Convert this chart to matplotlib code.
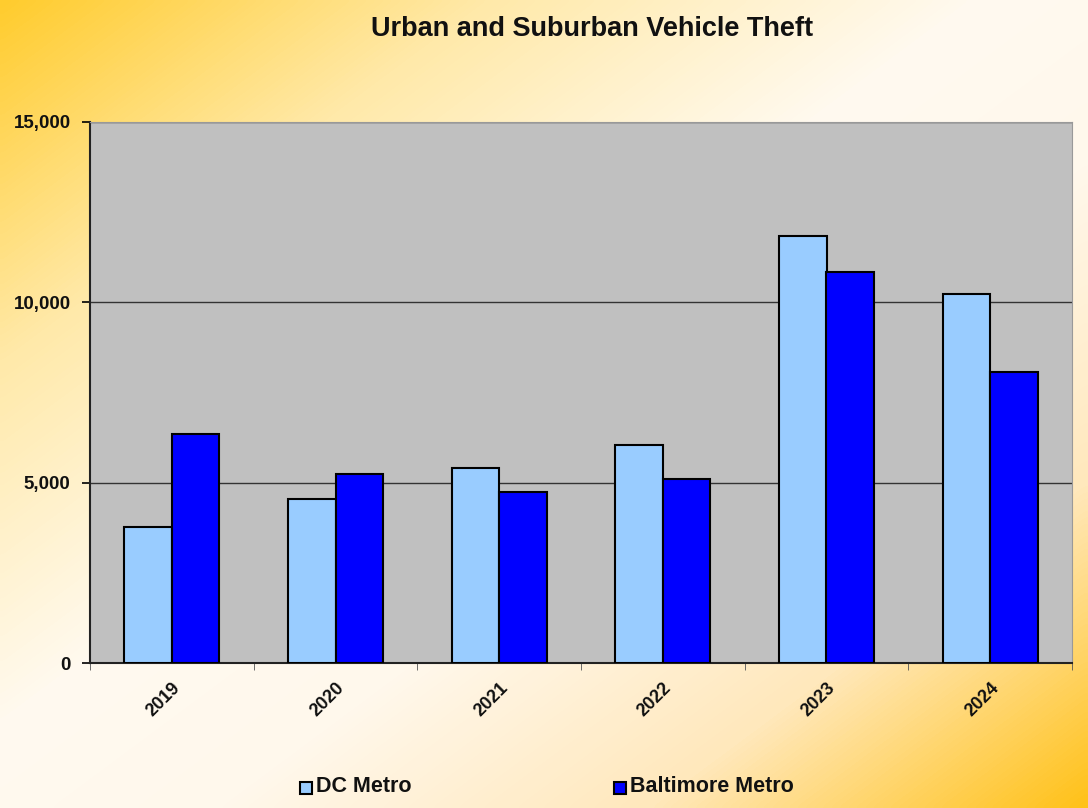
import matplotlib.pyplot as plt
import numpy as np
from matplotlib.colors import LinearSegmentedColormap

anos = ['2019', '2020', '2021', '2022', '2023', '2024']
dc_metro = [3770, 4550, 5410, 6040, 11840, 10230]
baltimore_metro = [6350, 5240, 4740, 5100, 10840, 8070]
series_nomes = ['DC Metro', 'Baltimore Metro']
cores = ['#99CCFF', '#0000FF']

plt.rcParams['font.family'] = ['Liberation Sans', 'DejaVu Sans']

fig = plt.figure(figsize=(10.88, 8.08), dpi=100)

# fundo em degradê diagonal (amarelo -> branco -> laranja)
bg = fig.add_axes([0, 0, 1, 1], zorder=0)
yy, xx = np.mgrid[0:1:200j, 0:1:200j]
t = (xx + yy) / 2
cmap_bg = LinearSegmentedColormap.from_list(
    'bg', [(0.0, '#FFCC2E'), (0.22, '#FFE9A8'), (0.45, '#FFFAF0'),
           (0.6, '#FFF8EC'), (0.8, '#FFE8BC'), (1.0, '#FFC21A')])
bg.imshow(t, cmap=cmap_bg, aspect='auto', extent=[0, 1, 1, 0], interpolation='bicubic')
bg.set_axis_off()

ax = fig.add_axes([90 / 1088, 1 - 663 / 808, (1072 - 90) / 1088, (663 - 122) / 808], zorder=1)
ax.set_facecolor('#C0C0C0')

x = np.arange(len(anos))
w = 0.29
ax.bar(x - w / 2, dc_metro, w, color=cores[0], edgecolor='black', linewidth=1.5, zorder=3, label=series_nomes[0])
ax.bar(x + w / 2, baltimore_metro, w, color=cores[1], edgecolor='black', linewidth=1.5, zorder=3, label=series_nomes[1])

ax.set_xlim(-0.5, len(anos) - 0.5)
ax.set_ylim(0, 15000)
ax.set_yticks([0, 5000, 10000, 15000])
ax.set_yticklabels([f'{v:,}' for v in [0, 5000, 10000, 15000]], fontsize=13.5, fontweight='bold', color='#111111')
ax.yaxis.grid(True, color='#333333', linewidth=1, zorder=0)
ax.set_axisbelow(True)

ax.set_xticks(x)
ax.set_xticklabels(anos, rotation=45, ha='right', rotation_mode='anchor', fontsize=13, fontweight='bold', color='#111111')
ax.tick_params(axis='x', length=0, pad=12)
ax.set_xticks(np.arange(-0.5, len(anos)), minor=True)
ax.tick_params(axis='x', which='minor', length=5, direction='out', color='#555555')
ax.tick_params(axis='y', length=6, direction='out', width=1.2, pad=8)

for lado in ['top', 'right']:
    ax.spines[lado].set_color('#999999')
ax.spines['left'].set_color('#222222')
ax.spines['left'].set_linewidth(1.5)
ax.spines['bottom'].set_color('#222222')
ax.spines['bottom'].set_linewidth(1.5)

fig.text(592 / 1088, 1 - 29 / 808, 'Urban and Suburban Vehicle Theft', ha='center', va='center',
         fontsize=19.5, fontweight='bold', color='#111111', zorder=2)

# legenda na parte inferior
leg_x = [300, 614]
for nome, cor, lx in zip(series_nomes, cores, leg_x):
    fig.patches.append(plt.Rectangle((lx / 1088, 1 - 794 / 808), 12 / 1088, 12 / 808,
                                     transform=fig.transFigure, facecolor=cor,
                                     edgecolor='black', linewidth=1.5, zorder=2))
    fig.text((lx + 16) / 1088, 1 - 787 / 808, nome, ha='left', va='center',
             fontsize=15.5, fontweight='bold', color='#111111', zorder=2)

plt.savefig('out.png', dpi=100)
